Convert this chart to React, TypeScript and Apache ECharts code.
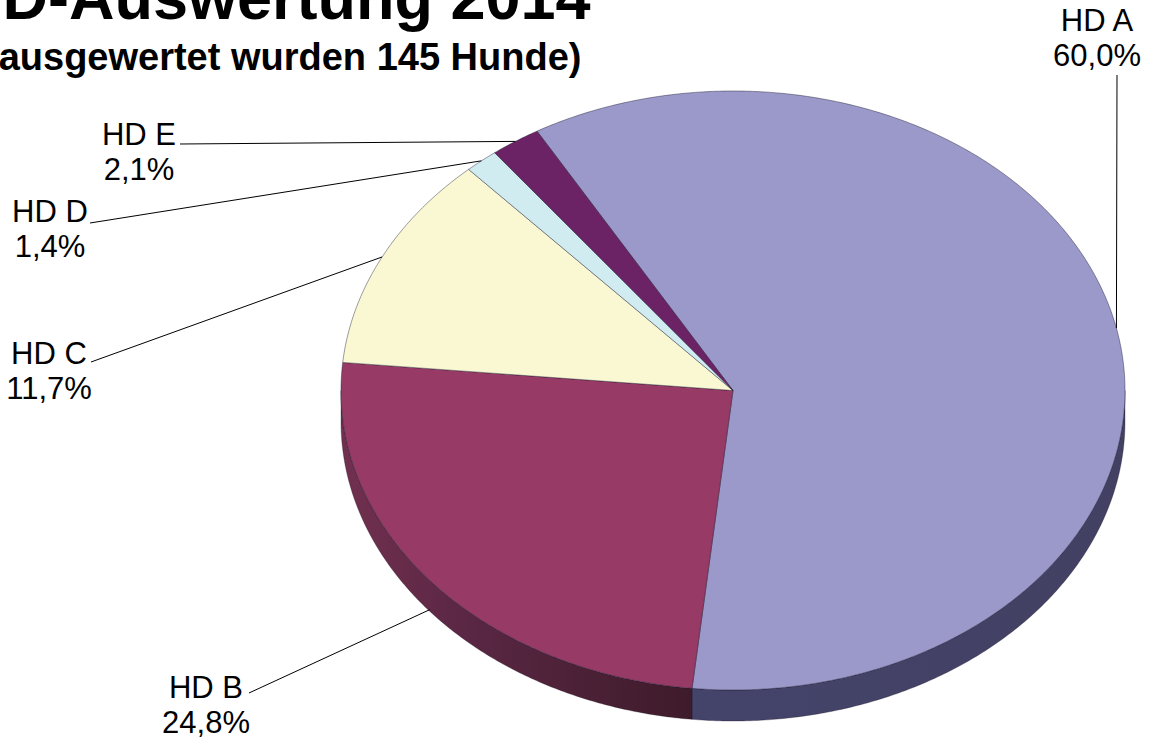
import React, { useEffect, useRef } from 'react';
import * as echarts from 'echarts';

// ---------- data ----------
const categories = ['HD A', 'HD B', 'HD C', 'HD D', 'HD E'];
const dogCounts = [87, 36, 17, 2, 3]; // 145 dogs in total
const titleText = 'HD-Auswertung 2014';
const subtitleText = '(ausgewertet wurden 145 Hunde)';

// ---------- styles / layout ----------
const topColors = ['#9a99ca', '#973a66', '#faf8d2', '#d0ecf1', '#6b2365'];
const sideStops = [
  [{ offset: 0, color: '#44436a' }, { offset: 1, color: '#424163' }],
  [{ offset: 0, color: '#72304f' }, { offset: 0.35, color: '#5a2744' }, { offset: 1, color: '#3e1b2a' }],
  [{ offset: 0, color: '#7a7860' }, { offset: 1, color: '#7a7860' }],
  [{ offset: 0, color: '#607478' }, { offset: 1, color: '#607478' }],
  [{ offset: 0, color: '#3a1236' }, { offset: 1, color: '#3a1236' }],
];
const PIE = { cx: 733, cy: 390.5, rx: 392, ry: 299.5, depth: 31, startDeg: 240 };
const FONT = '"Liberation Sans", Arial, sans-serif';
const labelLayout = [
  { x: 1097, y: 38, line: [[1117, 75]] },
  { x: 206, y: 705, line: [[249, 693]] },
  { x: 49, y: 371, line: [[91, 362]] },
  { x: 50, y: 229, line: [[90, 223]] },
  { x: 139, y: 152, line: [[180, 144]] },
];

const total = dogCounts.reduce((a, b) => a + b, 0);
const fracs = dogCounts.map((v) => v / total);
const cumStart = fracs.map((_, i) => fracs.slice(0, i).reduce((a, b) => a + b, 0));
const pctLabel = (f: number) => (f * 100).toFixed(1).replace('.', ',') + '%';

function ellipsePoint(deg: number, dy = 0): number[] {
  const r = (deg * Math.PI) / 180;
  return [PIE.cx + PIE.rx * Math.cos(r), PIE.cy + PIE.ry * Math.sin(r) + dy];
}
function arc(a1: number, a2: number, dy = 0): number[][] {
  const n = Math.max(2, Math.ceil((a2 - a1) / 0.5));
  const pts: number[][] = [];
  for (let k = 0; k <= n; k++) pts.push(ellipsePoint(a1 + ((a2 - a1) * k) / n, dy));
  return pts;
}
function frontRanges(a1: number, a2: number): number[][] {
  const res: number[][] = [];
  for (let k = -1; k <= 2; k++) {
    const lo = Math.max(a1, 360 * k);
    const hi = Math.min(a2, 360 * k + 180);
    if (hi > lo) res.push([lo, hi]);
  }
  return res;
}

export default function App() {
  const ref = useRef<HTMLDivElement>(null);
  useEffect(() => {
    if (!ref.current) return;
    const chart = echarts.init(ref.current, undefined, { renderer: 'svg' });
    chart.setOption({
      animation: false,
      backgroundColor: '#ffffff',
      graphic: [
        {
          type: 'text',
          x: -43,
          y: -3,
          style: { text: titleText, font: `bold 63px ${FONT}`, fill: '#000', verticalAlign: 'middle' },
        },
        {
          type: 'text',
          x: -14,
          y: 57,
          style: { text: subtitleText, font: `bold 38px ${FONT}`, fill: '#000', verticalAlign: 'middle' },
        },
      ],
      series: [
        {
          type: 'custom',
          coordinateSystem: 'none',
          silent: true,
          data: dogCounts.map((v, i) => ({ name: categories[i], value: [v, i] })),
          renderItem: (params: any, api: any) => {
            const i = params.dataIndex;
            const f = api.value(0) / total;
            const a1 = PIE.startDeg + 360 * cumStart[i];
            const a2 = a1 + 360 * f;
            const children: any[] = [];
            for (const [lo, hi] of frontRanges(a1, a2)) {
              const top = arc(lo, hi);
              const bottom = arc(lo, hi, PIE.depth).reverse();
              children.push({
                type: 'polygon',
                shape: { points: [...top, ...bottom] },
                style: {
                  fill: new echarts.graphic.LinearGradient(0, 0, 1, 0, sideStops[i]),
                  stroke: 'rgba(20,15,30,0.5)',
                  lineWidth: 0.6,
                },
              });
            }
            children.push({
              type: 'polygon',
              shape: { points: [[PIE.cx, PIE.cy], ...arc(a1, a2)] },
              style: { fill: topColors[i], stroke: 'rgba(30,25,50,0.55)', lineWidth: 0.8 },
            });
            const mid = (a1 + a2) / 2;
            const front = Math.sin((mid * Math.PI) / 180) > 0.05;
            const end = ellipsePoint(mid, front ? PIE.depth * 0.95 : 0);
            const L = labelLayout[i];
            children.push({
              type: 'polyline',
              shape: { points: [...L.line, end] },
              style: { stroke: '#000', lineWidth: 1, fill: null },
            });
            children.push({
              type: 'text',
              x: L.x,
              y: L.y,
              style: {
                text: categories[i] + '\n' + pctLabel(f),
                font: `31px ${FONT}`,
                fill: '#000',
                align: 'center',
                verticalAlign: 'middle',
                lineHeight: 35,
              },
            });
            return { type: 'group', children };
          },
        },
      ],
    });
    return () => chart.dispose();
  }, []);
  return (
    <div
      ref={ref}
      style={{ position: 'absolute', left: 0, top: 0, width: 1150, height: 742 }}
    />
  );
}
